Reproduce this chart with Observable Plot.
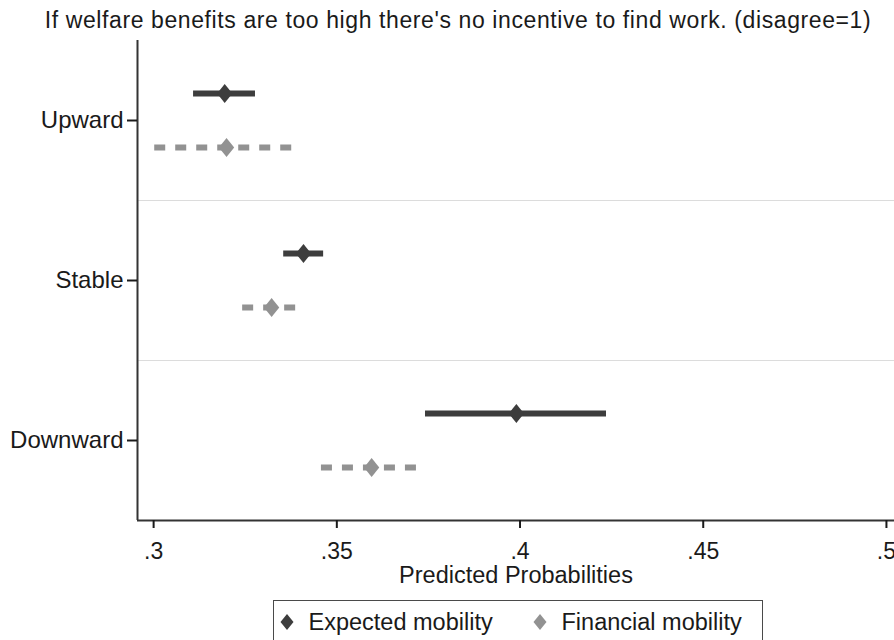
<!DOCTYPE html>
<html>
<head>
<meta charset="utf-8">
<script src="https://cdn.jsdelivr.net/npm/d3@7"></script>
<script src="https://cdn.jsdelivr.net/npm/@observablehq/plot@0.6"></script>
<style>
  body { margin: 0; background: #fff; font-family: "Liberation Sans", Arial, sans-serif; color: #1a1a1a; }
  #title { height: 38px; line-height: 40px; font-size: 23px; letter-spacing: 0.6px; text-align: center; padding-left: 22px; width: 872px; white-space: nowrap; overflow: visible; }
  #legend { position: relative; margin-top: 8px; margin-left: 273px; width: 490px; height: 44px; border: 1.5px solid #4a4a4a; box-sizing: border-box; font-size: 23.5px; }
  #legend .item { position: absolute; top: 0; height: 42px; display: flex; align-items: center; white-space: nowrap; }
  #legend svg { margin-right: 13px; }
</style>
</head>
<body>
<div id="title"></div>
<div id="chart"></div>
<div id="legend"></div>
<script>
const titleText = "If welfare benefits are too high there's no incentive to find work. (disagree=1)";
const groups = ["Upward", "Stable", "Downward"];
const seriesNames = ["Expected mobility", "Financial mobility"];
const seriesColors = ["#3d3d3d", "#929292"];
const expectedEst = [0.3194, 0.3409, 0.3990];
const expectedLo  = [0.3109, 0.3355, 0.3742];
const expectedHi  = [0.3278, 0.3464, 0.4236];
const financialEst = [0.3199, 0.3322, 0.3595];
const financialLo  = [0.3003, 0.3243, 0.3458];
const financialHi  = [0.3382, 0.3393, 0.3723];
const xTicks = [0.3, 0.35, 0.4, 0.45, 0.5];
const xTickLabels = [".3", ".35", ".4", ".45", ".5"];
const xLabel = "Predicted Probabilities";

document.getElementById("title").textContent = titleText;

const rows = groups.flatMap((g, i) => [
  {group: g, series: seriesNames[0], est: expectedEst[i], lo: expectedLo[i], hi: expectedHi[i]},
  {group: g, series: seriesNames[1], est: financialEst[i], lo: financialLo[i], hi: financialHi[i]}
]);
const expRows = rows.filter(d => d.series === seriesNames[0]);
const finRows = rows.filter(d => d.series === seriesNames[1]);

const diamond = {
  draw(ctx, size) {
    const h = Math.sqrt(size) * 0.77, w = h * 0.8;
    ctx.moveTo(0, -h); ctx.lineTo(w, 0); ctx.lineTo(0, h); ctx.lineTo(-w, 0); ctx.closePath();
  }
};

const xDomain = [0.2956, 0.5022];
const H = 554, MT = 2, MB = 72;
const bw = (H - MT - MB) / groups.length;
const off = 27;

const chart = Plot.plot({
  width: 894,
  height: H,
  marginTop: MT,
  marginBottom: MB,
  marginLeft: 137,
  marginRight: 0,
  style: {fontFamily: "'Liberation Sans', Arial, sans-serif", color: "#1a1a1a", background: "#fff"},
  x: {domain: xDomain},
  y: {type: "band", domain: groups, padding: 0},
  marks: [
    Plot.ruleY(groups.slice(1), {dy: -bw / 2, stroke: "#dcdcdc", strokeWidth: 1}),
    Plot.ruleX([xDomain[0]], {stroke: "#333", strokeWidth: 2}),
    Plot.ruleY([groups[groups.length - 1]], {dy: bw / 2, stroke: "#333", strokeWidth: 2}),
    Plot.axisY({tickSize: 10, tickPadding: 4, fontSize: 24, label: null, strokeWidth: 2}),
    Plot.axisX({ticks: xTicks, tickFormat: d => xTickLabels[xTicks.indexOf(d)], tickSize: 8, tickPadding: 14, fontSize: 23, label: null, strokeWidth: 2}),
    Plot.text([xLabel], {frameAnchor: "bottom", dy: 55, fontSize: 23.5, lineAnchor: "middle", fill: "#1a1a1a"}),
    Plot.ruleY(expRows, {y: "group", x1: "lo", x2: "hi", dy: -off, stroke: seriesColors[0], strokeWidth: 6}),
    Plot.ruleY(finRows, {y: "group", x1: "lo", x2: "hi", dy: off, stroke: seriesColors[1], strokeWidth: 6, strokeDasharray: "11,10"}),
    Plot.dot(expRows, {y: "group", x: "est", dy: -off, symbol: diamond, r: 7, fill: seriesColors[0], stroke: "none"}),
    Plot.dot(finRows, {y: "group", x: "est", dy: off, symbol: diamond, r: 7, fill: seriesColors[1], stroke: "none"})
  ]
});
document.getElementById("chart").appendChild(chart);

const legend = document.getElementById("legend");
const legendLefts = [3.5, 256.5];
seriesNames.forEach((name, i) => {
  const item = document.createElement("div");
  item.className = "item";
  item.style.left = legendLefts[i] + "px";
  item.innerHTML = `<svg width="18" height="20" viewBox="-9 -10 18 20"><path d="M0,-8L6.5,0L0,8L-6.5,0Z" fill="${seriesColors[i]}"/></svg><span>${name}</span>`;
  legend.appendChild(item);
});
</script>
</body>
</html>
